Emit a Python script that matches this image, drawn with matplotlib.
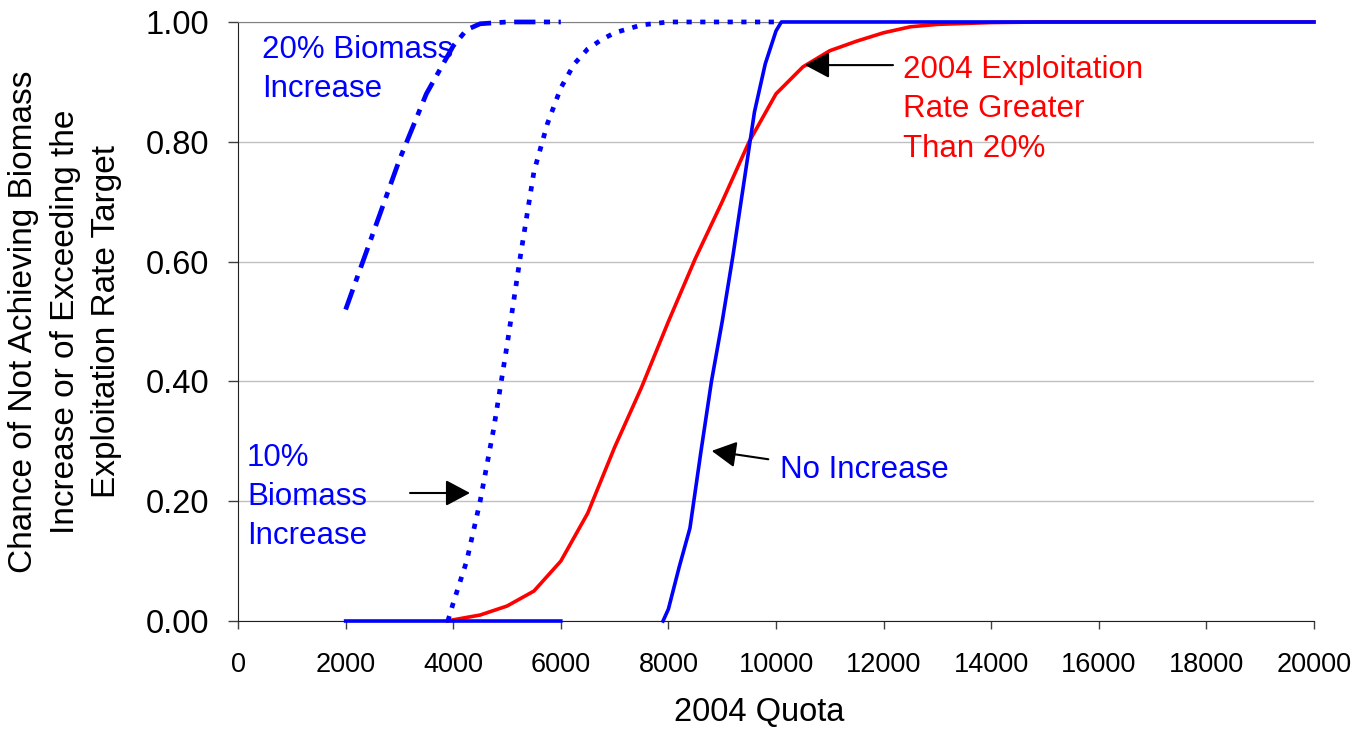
import numpy as np
import matplotlib
matplotlib.use("Agg")
import matplotlib.pyplot as plt

plt.rcParams['font.family'] = ['Liberation Sans', 'DejaVu Sans']

# 2004 quota levels and probabilities for each criterion
quota_20pct = [2000, 2500, 3000, 3500, 4000, 4250, 4500, 5000, 5500, 6000]
prob_20pct = [0.52, 0.645, 0.77, 0.88, 0.96, 0.987, 0.997, 1.0, 1.0, 1.0]

quota_10pct = [3900, 4000, 4250, 4500, 4750, 5000, 5250, 5500, 5750, 6000,
               6250, 6500, 6750, 7000, 7500, 8000, 9000, 10000]
prob_10pct = [0.0, 0.03, 0.10, 0.20, 0.32, 0.46, 0.61, 0.75, 0.83, 0.89,
              0.93, 0.955, 0.97, 0.982, 0.995, 1.0, 1.0, 1.0]

quota_none = [2000, 3000, 4000, 5000, 6000, 7000, 7900, 8000, 8200, 8400,
              8600, 8800, 9000, 9200, 9400, 9600, 9800, 10000, 10100, 12000,
              14000, 16000, 18000, 20000]
prob_none = [0.0, 0.0, 0.0, 0.0, 0.0, np.nan, 0.0, 0.02, 0.09, 0.155,
             0.28, 0.40, 0.50, 0.61, 0.73, 0.85, 0.93, 0.985, 1.0, 1.0,
             1.0, 1.0, 1.0, 1.0]

quota_exploit = [3900, 4000, 4500, 5000, 5500, 5750, 6000, 6500, 7000, 7500,
                 8000, 8500, 9000, 9500, 10000, 10500, 11000, 11500, 12000,
                 12500, 13000, 14000, 15000, 20000]
prob_exploit = [0.0, 0.002, 0.01, 0.025, 0.05, 0.075, 0.10, 0.18, 0.29, 0.39,
                0.50, 0.605, 0.70, 0.80, 0.88, 0.925, 0.952, 0.968, 0.982,
                0.992, 0.996, 0.999, 1.0, 1.0]

x_ticks = list(range(0, 20001, 2000))
y_ticks = [0.0, 0.2, 0.4, 0.6, 0.8, 1.0]

fig = plt.figure(figsize=(13.65, 7.3), dpi=100)
ax = fig.add_axes([0.1744, 0.1493, 0.7882, 0.8206])

blue = '#0000FF'
red = '#FF0000'

ax.plot(quota_exploit, prob_exploit, color=red, lw=2.6, clip_on=False, zorder=3)
ax.plot(quota_none, prob_none, color=blue, lw=2.6, clip_on=False, zorder=4)
ax.plot(quota_10pct, prob_10pct, color=blue, lw=3.4, linestyle=(0, (1.1, 1.8)),
        dash_capstyle='butt', clip_on=False, zorder=4)
ax.plot(quota_20pct, prob_20pct, color=blue, lw=3.4,
        linestyle=(0, (4.5, 1.8, 1.3, 1.8)), dash_capstyle='butt',
        clip_on=False, zorder=4)

ax.set_xlim(0, 20000)
ax.set_ylim(0, 1.0)
ax.set_xticks(x_ticks)
ax.set_xticklabels([str(v) for v in x_ticks], fontsize=19.5)
ax.set_yticks(y_ticks)
ax.set_yticklabels([f"{v:.2f}" for v in y_ticks], fontsize=23.5)
ax.yaxis.grid(True, color='#C0C0C0', lw=1.0)
ax.set_axisbelow(True)
ax.tick_params(axis='both', direction='out', width=1.0, color='#404040')
ax.tick_params(axis='x', length=6, pad=16)
ax.tick_params(axis='y', length=7, pad=14)

ax.spines['right'].set_visible(False)
ax.spines['top'].set_color('#808080')
ax.spines['left'].set_color('#202020')
ax.spines['bottom'].set_color('#202020')

ax.set_xlabel('2004 Quota', fontsize=23.5)
ax.xaxis.set_label_coords(0.484, -0.152)
ax.xaxis.label.set_verticalalignment('center')
ax.set_ylabel('Chance of Not Achieving Biomass\nIncrease or of Exceeding the\nExploitation Rate Target',
              fontsize=24, linespacing=1.45)
ax.yaxis.set_label_coords(-0.1608, 0.5)
ax.yaxis.label.set_verticalalignment('center')

# Series labels
ax.text(450, 0.92, '20% Biomass\nIncrease', color=blue, fontsize=22.5,
        va='center', ha='left', linespacing=1.4)
ax.text(167, 0.207, '10%\nBiomass\nIncrease', color=blue, fontsize=22.5,
        va='center', ha='left', linespacing=1.4)
ax.text(10074, 0.252, 'No Increase', color=blue, fontsize=22.5,
        va='center', ha='left')
ax.text(12360, 0.854, '2004 Exploitation\nRate Greater\nThan 20%', color=red,
        fontsize=22.5, va='center', ha='left', linespacing=1.4)

arrow = dict(arrowstyle='-|>,head_length=0.75,head_width=0.4', color='black',
             lw=1.5, mutation_scale=20, shrinkA=0, shrinkB=0)
ax.annotate('', xy=(4312, 0.2137), xytext=(3197, 0.2137), arrowprops=arrow)
ax.annotate('', xy=(8805, 0.284), xytext=(9857, 0.27), arrowprops=arrow)
ax.annotate('', xy=(10539, 0.928), xytext=(12175, 0.928), arrowprops=arrow)

fig.savefig('out.png', dpi=100)
